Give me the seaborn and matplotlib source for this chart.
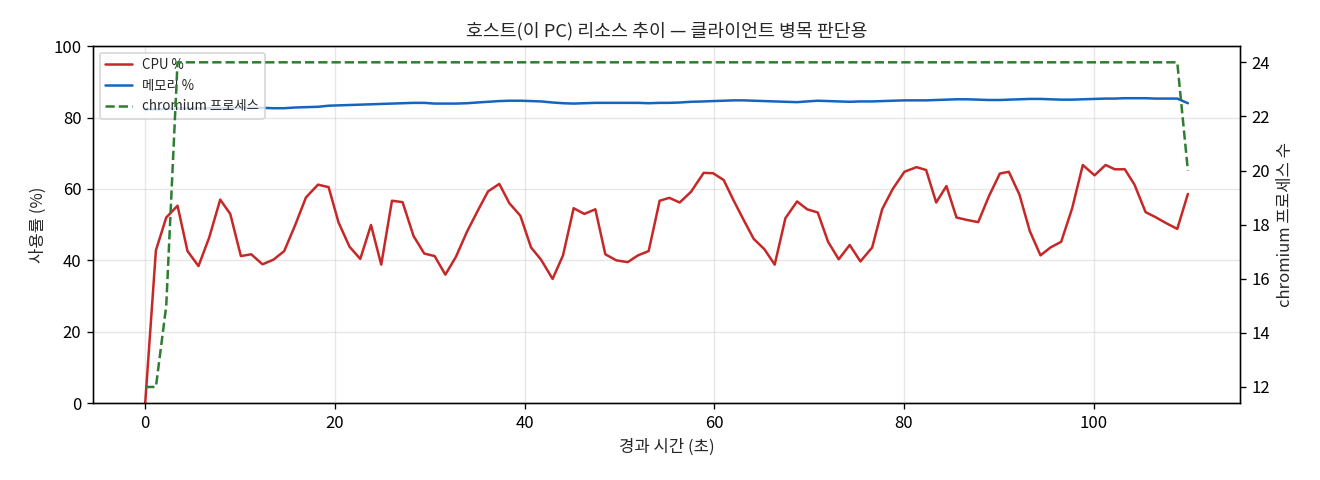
import pandas as pd
import matplotlib.pyplot as plt
import seaborn as sns

sns.set_style('ticks')
plt.rcParams['font.family'] = ['Noto Sans CJK KR', 'DejaVu Sans']
plt.rcParams['axes.unicode_minus'] = False
plt.rcParams['axes.edgecolor'] = 'black'
plt.rcParams['xtick.color'] = 'black'
plt.rcParams['ytick.color'] = 'black'

# elapsed seconds for each sample
elapsed = [0.00, 1.13, 2.22, 3.41, 4.46, 5.62, 6.75, 7.91, 8.97, 10.09,
           11.18, 12.37, 13.53, 14.66, 15.82, 16.95, 18.22, 19.34, 20.39, 21.55,
           22.68, 23.81, 24.89, 26.02, 27.14, 28.30, 29.43, 30.52, 31.65, 32.77,
           33.93, 34.99, 36.15, 37.34, 38.40, 39.56, 40.69, 41.74, 42.96, 44.06,
           45.18, 46.31, 47.47, 48.52, 49.68, 50.88, 51.97, 53.09, 54.25, 55.27,
           56.36, 57.56, 58.89, 59.88, 61.00, 62.06, 63.11, 64.17, 65.30, 66.38,
           67.51, 68.74, 69.80, 70.92, 72.01, 73.13, 74.29, 75.42, 76.66, 77.71,
           78.83, 80.06, 81.33, 82.35, 83.41, 84.49, 85.55, 86.68, 87.84, 88.96,
           90.12, 91.07, 92.19, 93.28, 94.41, 95.46, 96.59, 97.75, 98.87, 100.11,
           101.27, 102.25, 103.30, 104.32, 105.49, 106.54, 107.67, 108.83, 109.95]

cpu_pct = [0.0, 42.8, 52.0, 55.3, 42.6, 38.4, 46.4, 57.0, 53.0, 41.2,
           41.7, 38.9, 40.2, 42.6, 49.9, 57.6, 61.2, 60.5, 50.6, 43.8,
           40.4, 49.9, 38.8, 56.7, 56.3, 46.8, 41.9, 41.2, 36.0, 41.0,
           48.0, 53.5, 59.3, 61.4, 56.0, 52.5, 43.6, 40.2, 34.8, 41.4,
           54.6, 53.0, 54.3, 41.7, 40.0, 39.5, 41.4, 42.6, 56.7, 57.5,
           56.2, 59.2, 64.5, 64.4, 62.5, 56.7, 51.3, 46.0, 43.1, 38.8,
           51.8, 56.5, 54.3, 53.4, 45.2, 40.3, 44.3, 39.7, 43.6, 54.3,
           60.0, 64.8, 66.1, 65.3, 56.2, 60.8, 52.0, 51.3, 50.7, 57.9,
           64.3, 64.8, 58.4, 48.2, 41.4, 43.6, 45.2, 54.6, 66.7, 63.8,
           66.7, 65.5, 65.5, 61.2, 53.5, 52.1, 50.4, 48.8, 58.6]

mem_pct = [82.2, 82.3, 82.4, 82.5, 82.5, 82.6, 82.6, 82.6, 82.7, 82.7,
           82.7, 82.7, 82.6, 82.6, 82.8, 82.9, 83.0, 83.3, 83.4, 83.5,
           83.6, 83.7, 83.8, 83.9, 84.0, 84.1, 84.1, 83.9, 83.9, 83.9,
           84.0, 84.2, 84.4, 84.6, 84.7, 84.7, 84.6, 84.5, 84.2, 84.0,
           83.9, 84.0, 84.1, 84.1, 84.1, 84.1, 84.1, 84.0, 84.1, 84.1,
           84.2, 84.4, 84.5, 84.6, 84.7, 84.8, 84.8, 84.7, 84.6, 84.5,
           84.4, 84.3, 84.5, 84.7, 84.6, 84.5, 84.4, 84.5, 84.5, 84.6,
           84.7, 84.8, 84.8, 84.8, 84.9, 85.0, 85.1, 85.1, 85.0, 84.9,
           84.9, 85.0, 85.1, 85.2, 85.2, 85.1, 85.0, 85.0, 85.1, 85.2,
           85.3, 85.3, 85.4, 85.4, 85.4, 85.3, 85.3, 85.3, 84.0]

chromium_procs = [12, 12, 15, 24, 24, 24, 24, 24, 24, 24,
                  24, 24, 24, 24, 24, 24, 24, 24, 24, 24,
                  24, 24, 24, 24, 24, 24, 24, 24, 24, 24,
                  24, 24, 24, 24, 24, 24, 24, 24, 24, 24,
                  24, 24, 24, 24, 24, 24, 24, 24, 24, 24,
                  24, 24, 24, 24, 24, 24, 24, 24, 24, 24,
                  24, 24, 24, 24, 24, 24, 24, 24, 24, 24,
                  24, 24, 24, 24, 24, 24, 24, 24, 24, 24,
                  24, 24, 24, 24, 24, 24, 24, 24, 24, 24,
                  24, 24, 24, 24, 24, 24, 24, 24, 20]

df = pd.DataFrame({'t': elapsed, 'cpu': cpu_pct, 'mem': mem_pct, 'procs': chromium_procs})

fig, ax = plt.subplots(figsize=(11, 4), dpi=120)
sns.lineplot(data=df, x='t', y='cpu', ax=ax, color='#c62828', linewidth=1.5, label='CPU %')
sns.lineplot(data=df, x='t', y='mem', ax=ax, color='#1565c0', linewidth=1.5, label='메모리 %')
ax.set_ylim(0, 100)
ax.set_xlabel('경과 시간 (초)', fontsize=10)
ax.set_ylabel('사용률 (%)', fontsize=10)
ax.grid(color='#b0b0b0', alpha=0.3)

ax2 = ax.twinx()
sns.lineplot(data=df, x='t', y='procs', ax=ax2, color='#2e7d32', linewidth=1.5,
             linestyle='--', label='chromium 프로세스')
ax2.set_ylabel('chromium 프로세스 수', fontsize=10)

h1, l1 = ax.get_legend_handles_labels()
h2, l2 = ax2.get_legend_handles_labels()
if ax2.get_legend():
    ax2.get_legend().remove()
ax.legend(h1 + h2, l1 + l2, loc='upper left', fontsize=8, framealpha=0.8)

ax.set_title('호스트(이 PC) 리소스 추이 — 클라이언트 병목 판단용', fontsize=11)
fig.subplots_adjust(left=0.0705, right=0.9394, top=0.904, bottom=0.160)
plt.savefig('out.png')
